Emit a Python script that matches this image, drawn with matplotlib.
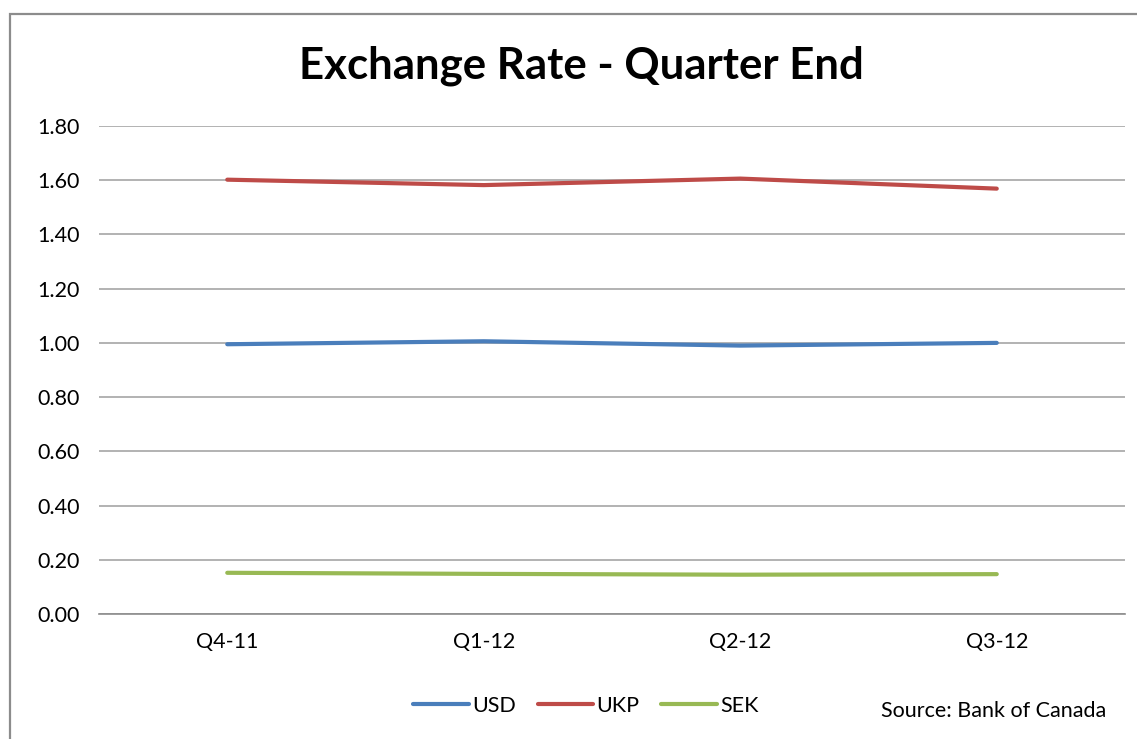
import matplotlib.pyplot as plt
from matplotlib.patches import Rectangle

# --- DATA ---
quarters = ["Q4-11", "Q1-12", "Q2-12", "Q3-12"]
usd = [0.995, 1.006, 0.990, 1.000]
ukp = [1.602, 1.582, 1.606, 1.569]
sek = [0.152, 0.148, 0.145, 0.147]
yticks = [0.0, 0.2, 0.4, 0.6, 0.8, 1.0, 1.2, 1.4, 1.6, 1.8]

series = [("USD", usd, "#4A7EBB"), ("UKP", ukp, "#BE4B48"), ("SEK", sek, "#98B954")]

plt.rcParams["font.family"] = ["Lato", "DejaVu Sans"]

W, H = 1137, 739
fig = plt.figure(figsize=(W / 100, H / 100), dpi=100)

# outer chart frame (cut off at right and bottom like the screenshot)
fig.patches.append(Rectangle((10 / W, -0.1), 1.2, 1 - 14 / H + 0.1,
                             transform=fig.transFigure, fill=False,
                             edgecolor="#8C8C8C", linewidth=1.6))

ax = fig.add_axes([99 / W, 1 - 614 / H, (1125 - 99) / W, (614 - 126) / H])

x = list(range(len(quarters)))
for name, vals, col in series:
    ax.plot(x, vals, color=col, linewidth=3, solid_capstyle="round", label=name)

ax.set_xlim(-0.5, len(quarters) - 0.5)
ax.set_ylim(0, 1.8)
ax.set_yticks(yticks)
ax.set_yticklabels([f"{v:.2f}" for v in yticks], fontsize=15.5)
ax.set_xticks(x)
ax.set_xticklabels(quarters, fontsize=15.5)
ax.tick_params(axis="y", length=0, pad=14)
ax.tick_params(axis="x", length=0, pad=13)
ax.grid(axis="y", color="#A6A6A6", linewidth=1.2)
ax.set_axisbelow(True)
for s in ["top", "right", "left"]:
    ax.spines[s].set_visible(False)
ax.spines["bottom"].set_color("#8C8C8C")
ax.spines["bottom"].set_linewidth(1.2)

fig.text(581 / W, 1 - 66 / H, "Exchange Rate - Quarter End", ha="center", va="center",
         fontsize=31.5, fontweight="bold")

fig.legend(loc="center", bbox_to_anchor=(586 / W, 1 - 706 / H), ncol=3, frameon=False,
           fontsize=15.5, handlelength=2.6, handletextpad=0.15, columnspacing=1.0)

fig.text(994 / W, 1 - 711 / H, "Source: Bank of Canada", ha="center", va="center", fontsize=15.5)

fig.savefig("out.png", dpi=100)
